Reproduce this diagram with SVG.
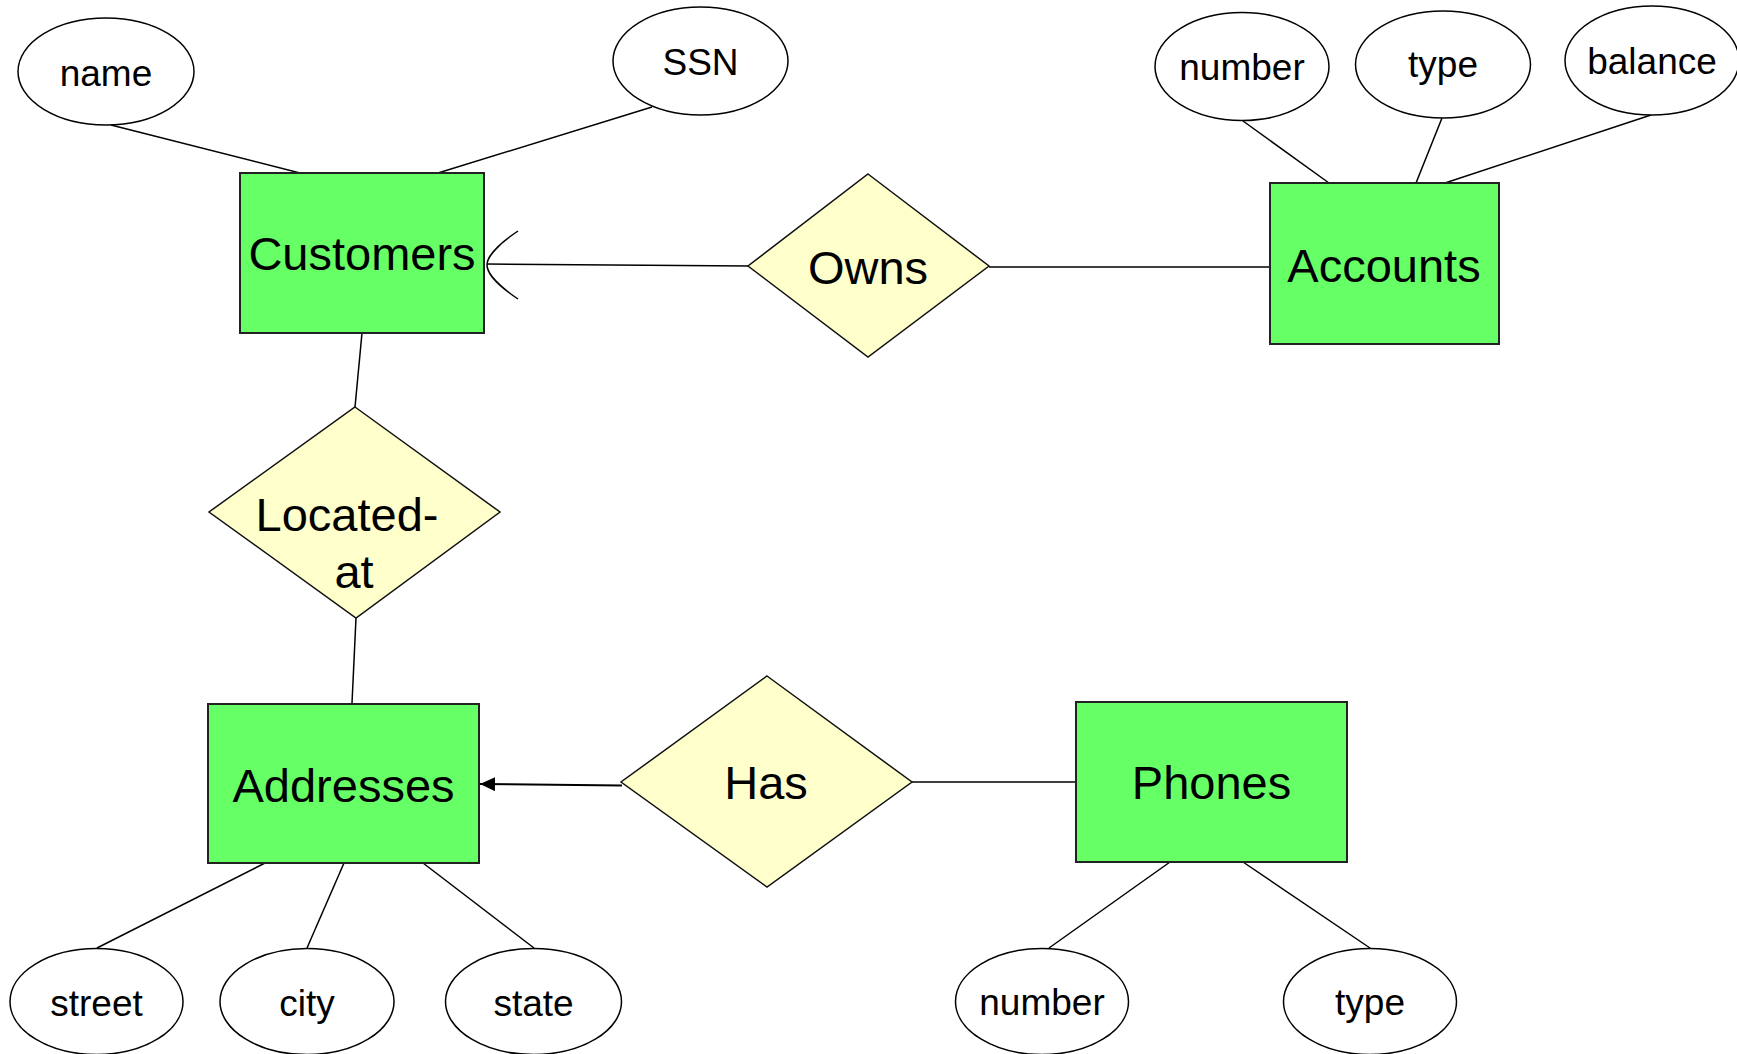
<svg xmlns="http://www.w3.org/2000/svg" width="1737" height="1054" viewBox="0 0 1737 1054">
  <defs>
    <style>
      .entity { fill: #66FF66; stroke: #222; stroke-width: 2; }
      .rel { fill: #FFFFCC; stroke: #111; stroke-width: 1.5; }
      .attr { fill: #FFFFFF; stroke: #000; stroke-width: 1.5; }
      .link { stroke: #000; stroke-width: 1.5; fill: none; }
      .lbl-big { font-family: "Liberation Sans", Arial, sans-serif; font-size: 47px; fill: #000; text-anchor: middle; }
      .lbl-small { font-family: "Liberation Sans", Arial, sans-serif; font-size: 37px; fill: #000; text-anchor: middle; }
    </style>
    <marker id="arrowhead" markerWidth="15" markerHeight="14" refX="15" refY="7" orient="auto" markerUnits="userSpaceOnUse">
      <path d="M0,0 L15,7 L0,14 Z" fill="#000"/>
    </marker>
  </defs>
  <rect width="1737" height="1054" fill="#FFFFFF"/>

  <!-- connectors -->
  <g id="connectors">
    <line class="link" x1="111" y1="125" x2="300" y2="173"/>
    <line class="link" x1="652" y1="107" x2="438" y2="173"/>
    <line class="link" x1="1243" y1="121" x2="1329" y2="183"/>
    <line class="link" x1="1442" y1="118" x2="1416" y2="183"/>
    <line class="link" x1="1651" y1="115" x2="1445" y2="183"/>
    <!-- Owns: many side at Customers (crow's foot) -->
    <line class="link" x1="487" y1="264" x2="749" y2="266"/>
    <path class="link" d="M518,231 C500,243 487,256 487,265 C487,274 500,287 518,299"/>
    <line class="link" x1="989" y1="267" x2="1270" y2="267"/>
    <line class="link" x1="362" y1="333" x2="355" y2="407"/>
    <line class="link" x1="356" y1="618" x2="352" y2="703"/>
    <!-- Has: arrow into Addresses -->
    <line class="link" style="stroke-width:2" x1="622" y1="785.5" x2="480" y2="784" marker-end="url(#arrowhead)"/>
    <line class="link" x1="912" y1="782" x2="1076" y2="782"/>
    <line class="link" x1="265" y1="863" x2="97" y2="948"/>
    <line class="link" x1="344" y1="863" x2="307" y2="948"/>
    <line class="link" x1="423" y1="863" x2="534" y2="948"/>
    <line class="link" x1="1170" y1="862" x2="1049" y2="948"/>
    <line class="link" x1="1243" y1="862" x2="1370" y2="948"/>
  </g>

  <!-- entities -->
  <g id="customers">
    <rect class="entity" x="240" y="173" width="244" height="160"/>
    <text class="lbl-big" x="362" y="270">Customers</text>
  </g>
  <g id="accounts">
    <rect class="entity" x="1270" y="183" width="229" height="161"/>
    <text class="lbl-big" x="1384" y="282">Accounts</text>
  </g>
  <g id="addresses">
    <rect class="entity" x="208" y="704" width="271" height="159"/>
    <text class="lbl-big" x="343.5" y="802">Addresses</text>
  </g>
  <g id="phones">
    <rect class="entity" x="1076" y="702" width="271" height="160"/>
    <text class="lbl-big" x="1211.5" y="799">Phones</text>
  </g>

  <!-- relationships -->
  <g id="owns">
    <polygon class="rel" points="868,174 989,266 868,357 748,266"/>
    <text class="lbl-big" x="868" y="284">Owns</text>
  </g>
  <g id="located-at">
    <polygon class="rel" points="355,407 500,512 356,618 209,512"/>
    <text class="lbl-big" x="347" y="531">Located-</text>
    <text class="lbl-big" x="354" y="588">at</text>
  </g>
  <g id="has">
    <polygon class="rel" points="767,676 912,782 767,887 621,782"/>
    <text class="lbl-big" x="766" y="799">Has</text>
  </g>

  <!-- attributes -->
  <g id="attr-name">
    <ellipse class="attr" cx="106" cy="71.5" rx="88" ry="53.5"/>
    <text class="lbl-small" x="106" y="86">name</text>
  </g>
  <g id="attr-ssn">
    <ellipse class="attr" cx="700.5" cy="61" rx="87.5" ry="54"/>
    <text class="lbl-small" x="700.5" y="75">SSN</text>
  </g>
  <g id="attr-acc-number">
    <ellipse class="attr" cx="1242" cy="66.5" rx="87" ry="54"/>
    <text class="lbl-small" x="1242" y="80">number</text>
  </g>
  <g id="attr-acc-type">
    <ellipse class="attr" cx="1443" cy="64.5" rx="87.5" ry="53.5"/>
    <text class="lbl-small" x="1443" y="77">type</text>
  </g>
  <g id="attr-balance">
    <ellipse class="attr" cx="1652" cy="60.5" rx="87" ry="54.5"/>
    <text class="lbl-small" x="1652" y="74">balance</text>
  </g>
  <g id="attr-street">
    <ellipse class="attr" cx="96.5" cy="1001.5" rx="86.5" ry="53"/>
    <text class="lbl-small" x="96.5" y="1016">street</text>
  </g>
  <g id="attr-city">
    <ellipse class="attr" cx="307" cy="1001.5" rx="87" ry="53"/>
    <text class="lbl-small" x="307" y="1016">city</text>
  </g>
  <g id="attr-state">
    <ellipse class="attr" cx="533.5" cy="1001.5" rx="88" ry="53"/>
    <text class="lbl-small" x="533.5" y="1016">state</text>
  </g>
  <g id="attr-ph-number">
    <ellipse class="attr" cx="1042" cy="1001.5" rx="86.5" ry="53"/>
    <text class="lbl-small" x="1042" y="1015">number</text>
  </g>
  <g id="attr-ph-type">
    <ellipse class="attr" cx="1370" cy="1001.5" rx="86.5" ry="53"/>
    <text class="lbl-small" x="1370" y="1015">type</text>
  </g>
</svg>
